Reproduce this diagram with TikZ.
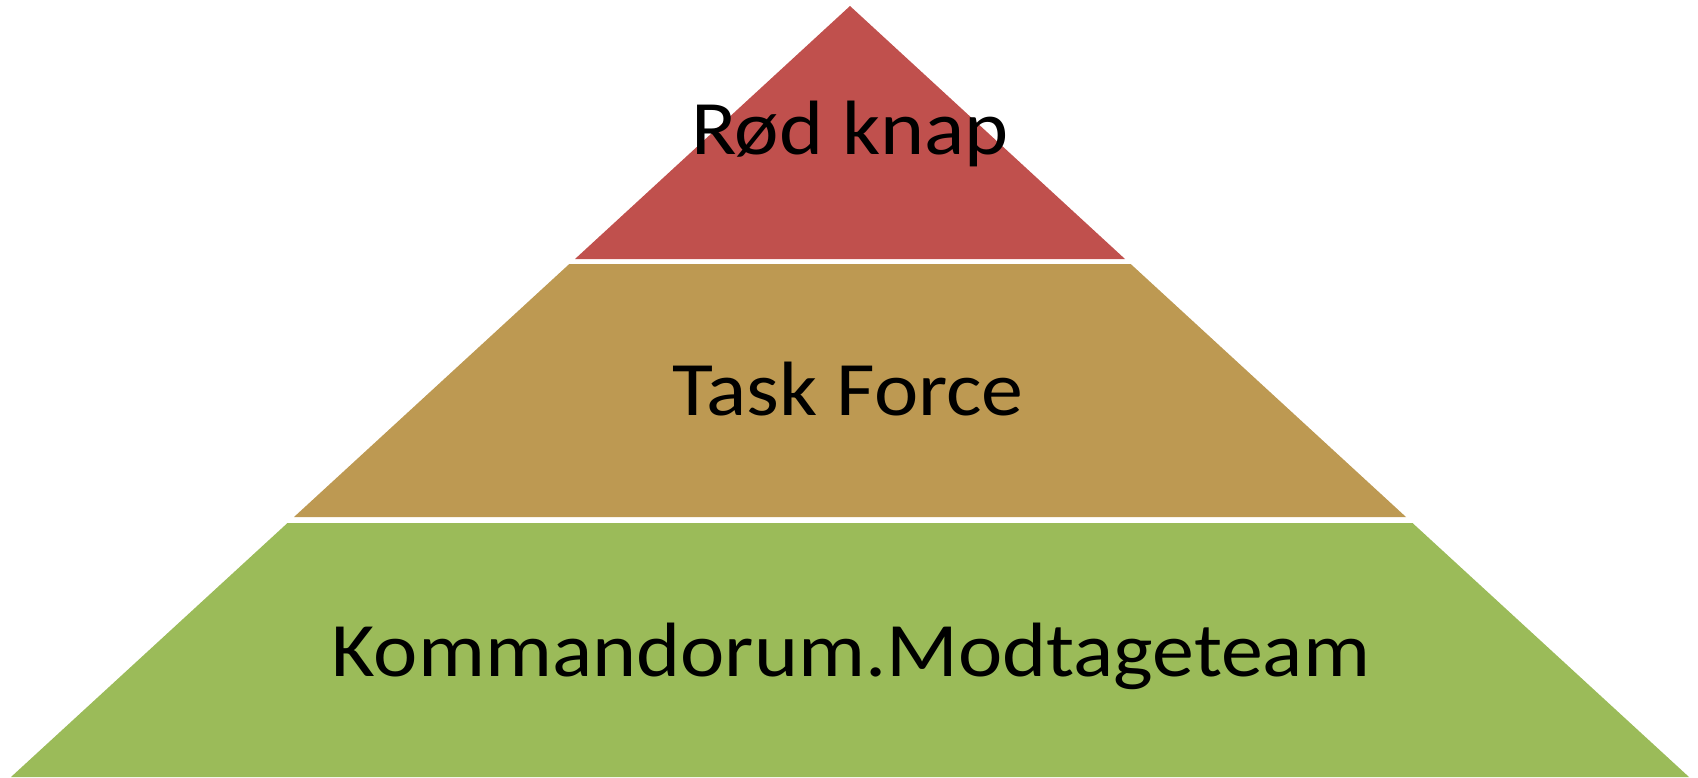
\documentclass[tikz,border=0pt]{standalone}
\usepackage{fontspec}
\setmainfont{Carlito}
\definecolor{redband}{RGB}{192,80,77}
\definecolor{tanband}{RGB}{189,153,82}
\definecolor{greenband}{RGB}{155,187,89}
\tikzset{
  lbl/.style={anchor=base,inner sep=0pt,xscale=1.09,font=\fontsize{77}{90}\selectfont,text=black}
}
\begin{document}
\begin{tikzpicture}[x=1pt,y=-1pt]
\useasboundingbox (0,0) rectangle (1698,777);
\fill[redband] (850,6) -- (575,259) -- (1125,259) -- cycle;
\fill[tanband] (569.3,264) -- (1130.7,264) -- (1406,517) -- (294,517) -- cycle;
\fill[greenband] (287.5,523) -- (1412.5,523) -- (1689,777) -- (11,777) -- cycle;
\node[lbl] (top) at (850,154) {Rød knap};
\node[lbl] (mid) at (848,415) {Task Force};
\node[lbl] (bot) at (851,676) {Kommandorum.Modtageteam};
\end{tikzpicture}
\end{document}
